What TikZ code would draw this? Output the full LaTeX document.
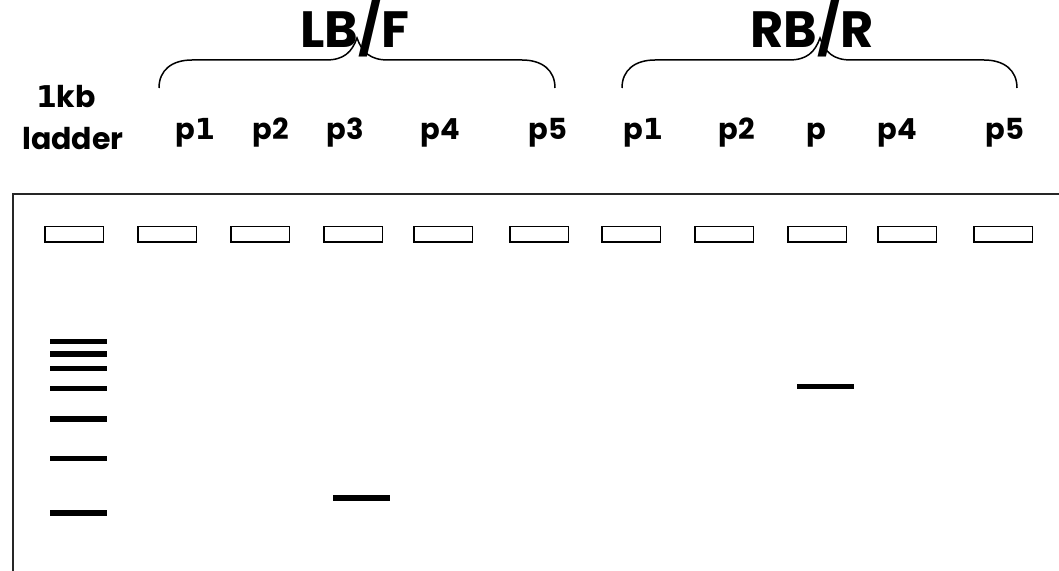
\documentclass[tikz,border=0pt]{standalone}
\usepackage{fontspec}
\setmainfont{Poppins}
% a figure one with a foot serif
\newfontfamily\footedfont{DejaVu Sans}
\newcommand{\one}{{\footedfont\bfseries 1}}
\begin{document}
\begin{tikzpicture}[x=1bp,y=-1bp,
  lane/.style={inner sep=0pt, anchor=base, font=\bfseries\fontsize{29bp}{30bp}\selectfont},
  ladderlbl/.style={inner sep=0pt, anchor=base, font=\bfseries\fontsize{30bp}{31bp}\selectfont},
  group/.style={inner sep=0pt, anchor=base, font=\bfseries\fontsize{51bp}{52bp}\selectfont},
  well/.style={draw, line width=1.5bp, inner sep=0pt, minimum width=58.5bp, minimum height=15.5bp},
  band/.style={fill=black, inner sep=0pt, minimum width=57bp, minimum height=5.5bp},
  brace/.style={line width=1.5bp},
  frame/.style={line width=1.4bp, draw=black!85}]
\useasboundingbox (0,0) rectangle (1059,571);

% group titles
\node[group] (lbf) at (355,48) {LB/F};
\node[group] (rbr) at (812,48) {RB/R};

% braces over the two primer groups
\draw[brace] (159,88) .. controls (159,70) and (172,60) .. (192,60) -- (326,60)
  .. controls (344,60) and (352,52) .. (357,38)
  .. controls (362,52) and (370,60) .. (388,60) -- (522,60)
  .. controls (542,60) and (555,70) .. (555,88);
\draw[brace] (622,88) .. controls (622,70) and (635,60) .. (655,60) -- (789,60)
  .. controls (807,60) and (815,52) .. (820,38)
  .. controls (825,52) and (833,60) .. (851,60) -- (984,60)
  .. controls (1004,60) and (1017,70) .. (1017,88);

% lane labels
\node[ladderlbl] (kb) at (66,108) {\one kb};
\node[ladderlbl] (ladder) at (73,150) {ladder};
\node[lane] (l1) at (195,140) {p\one};
\node[lane] (l2) at (271,140) {p2};
\node[lane] (l3) at (345,140) {p3};
\node[lane] (l4) at (440,140) {p4};
\node[lane] (l5) at (548,140) {p5};
\node[lane] (r1) at (643,140) {p\one};
\node[lane] (r2) at (737,140) {p2};
\node[lane] (r3) at (816,140) {p};
\node[lane] (r4) at (897,140) {p4};
\node[lane] (r5) at (1005,140) {p5};

% gel outline
\draw[frame] (13,571) -- (13,194) -- (1059,194);

% loading wells
\foreach \x [count=\i] in {74,167,260,353,443,539,631,724,817,907,1003}
  \node[well] (w\i) at (\x,234.2) {};

% ladder bands
\foreach \y [count=\i] in {341.3,354,368.3,388.3,418.8,458.5,512.8}
  \node[band] (lad\i) at (78.5,\y) {};

% sample bands
\node[band] (b3) at (361.5,498.2) {};
\node[band] (b9) at (825.5,386.5) {};
\end{tikzpicture}
\end{document}
